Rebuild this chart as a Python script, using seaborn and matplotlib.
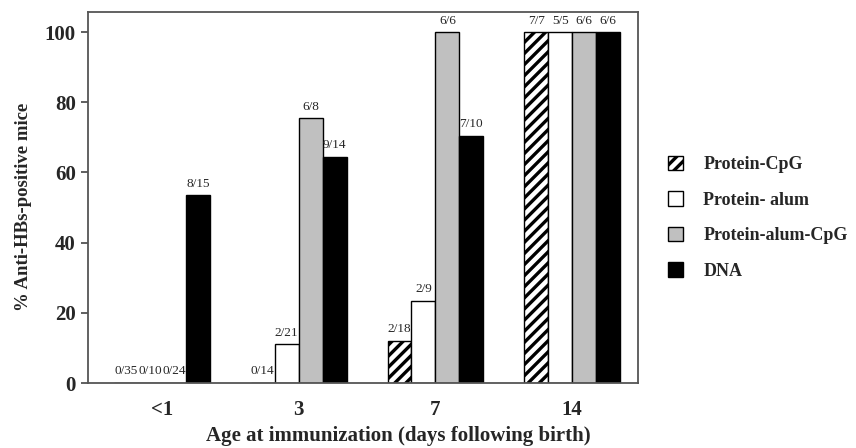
import matplotlib
matplotlib.use("Agg")
import matplotlib.pyplot as plt
import seaborn as sns
import pandas as pd
from matplotlib.patches import Patch

groups = ["<1", "3", "7", "14"]
series = ["Protein-CpG", "Protein- alum", "Protein-alum-CpG", "DNA"]
values = {
    "Protein-CpG":      [0, 0, 12, 100],
    "Protein- alum":    [0, 11, 23.5, 100],
    "Protein-alum-CpG": [0, 75.5, 100, 100],
    "DNA":              [53.5, 64.5, 70.5, 100],
}
labels = {
    "Protein-CpG":      ["0/35", "0/14", "2/18", "7/7"],
    "Protein- alum":    ["0/10", "2/21", "2/9", "5/5"],
    "Protein-alum-CpG": ["0/24", "6/8", "6/6", "6/6"],
    "DNA":              ["8/15", "9/14", "7/10", "6/6"],
}
colors = ["white", "white", "#c0c0c0", "black"]
hatches = ["///", "", "", ""]

rows = []
for s in series:
    for g, v in zip(groups, values[s]):
        rows.append({"group": g, "series": s, "value": v})
df = pd.DataFrame(rows)

sns.set_style("white")
plt.rcParams["font.family"] = ["Liberation Serif", "DejaVu Serif"]
plt.rcParams["hatch.linewidth"] = 2.4

fig = plt.figure(figsize=(8.56, 4.48), dpi=100)
ax = fig.add_axes([0.103, 0.145, 0.642, 0.828])

sns.barplot(data=df, x="group", y="value", hue="series", order=groups,
            hue_order=series, palette=colors, width=0.7, ax=ax,
            edgecolor="black", linewidth=1.0, legend=False)

for i, s in enumerate(series):
    cont = ax.containers[i]
    for bar in cont:
        bar.set_hatch(hatches[i])
        bar.set_edgecolor("black")
    ax.bar_label(cont, labels=labels[s], padding=4, fontsize=9.5)

ax.set_xlim(-0.54, 3.48)
ax.set_ylim(0, 105.7)
ax.set_yticks([0, 20, 40, 60, 80, 100])
ax.tick_params(axis="y", direction="out", length=5, width=1.2, left=True,
               labelsize=15, pad=4, color="#444444")
ax.tick_params(axis="x", length=0, labelsize=15, pad=12)
for lab in ax.get_xticklabels() + ax.get_yticklabels():
    lab.set_fontweight("bold")
for sp in ax.spines.values():
    sp.set_visible(True)
    sp.set_color("#555555")
    sp.set_linewidth(1.3)

ax.set_xlabel("Age at immunization (days following birth)", fontsize=15,
              fontweight="bold")
ax.set_ylabel("% Anti-HBs-positive mice", fontsize=13.5, fontweight="bold")
ax.xaxis.set_label_coords(0.565, -0.117)
ax.yaxis.set_label_coords(-0.102, 0.474)

handles = [Patch(facecolor=c, edgecolor="black", hatch=h, linewidth=1.0)
           for c, h in zip(colors, hatches)]
fig.legend(handles, series, loc="upper left", bbox_to_anchor=(0.772, 0.668),
           frameon=False, prop={"weight": "bold", "size": 13},
           handlelength=0.85, handleheight=0.85, labelspacing=1.0,
           handletextpad=1.1, borderaxespad=0)

fig.savefig("out.png", dpi=100)
